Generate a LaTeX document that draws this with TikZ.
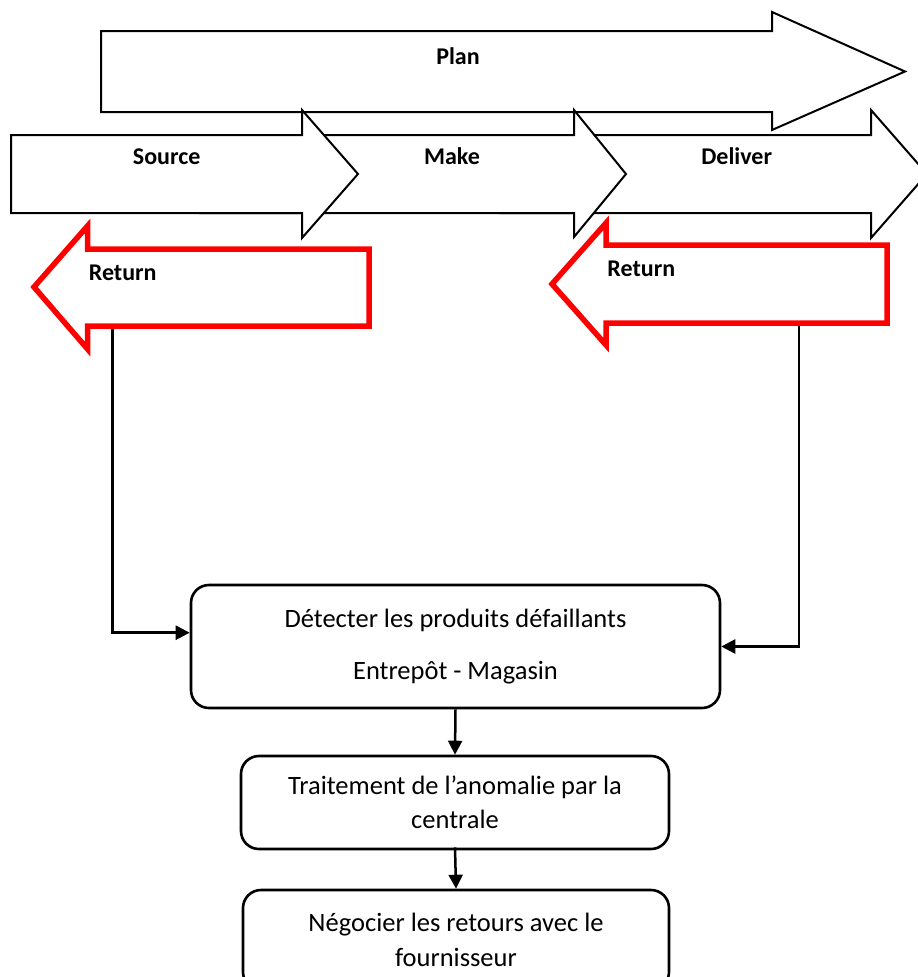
\documentclass[tikz,border=0pt]{standalone}
\usepackage{fontspec}
\setmainfont{Carlito}
\usetikzlibrary{arrows.meta,calc}
\begin{document}
\begin{tikzpicture}[x=1pt,y=-1pt,
  flow/.style={draw=black, line width=2pt, fill=white, line join=miter},
  ret/.style={draw=red, line width=5.5pt, fill=white, line join=miter},
  lbl/.style={font=\fontsize{24}{28}\selectfont\bfseries, anchor=base, inner sep=0pt},
  stepbox/.style={draw=black, line width=2.6pt, rounded corners=18pt, align=center,
                  font=\fontsize{26.5}{34.3}\selectfont, inner sep=0pt},
  conn/.style={line width=2.5pt, -{Triangle[length=14pt,width=14pt]}}
]
\useasboundingbox (0,0) rectangle (918,977);

% process boxes
\node[stepbox, minimum width=529pt, minimum height=123pt] (detect) at (455.5,646.5)
  {Détecter les produits défaillants\\[17.7pt]Entrepôt - Magasin};
\node[stepbox, minimum width=428pt, minimum height=93pt] (treat) at (455,802.5)
  {Traitement de l’anomalie par la\\centrale};
\node[stepbox, minimum width=426pt, minimum height=100pt] (nego) at (456,940)
  {Négocier les retours avec le\\fournisseur};

% feet of the two return arrows
\coordinate (retL) at (112.7,326);
\coordinate (retR) at (799,323);

% connectors
\draw[conn] (retL) |- ($(detect.west)+(0,-13.8)$);
\draw[conn] (retR) |- (detect.east);
\draw[conn] (detect.south) -- (treat.north);
\draw[conn] ($(treat.south)+(0,-3)$) -- (nego.north);

% SCOR process arrows
\draw[flow] (101,31) -- (772,31) -- (772,12) -- (905,71.5) -- (772,130) -- (772,112) -- (101,112) -- cycle;
\draw[flow] (500,135) -- (871,135) -- (871,110) -- (927,174) -- (871,238) -- (871,213) -- (500,213) -- cycle;
\draw[flow] (200,135) -- (574,135) -- (574,110) -- (626,174) -- (574,237) -- (574,213) -- (200,213) -- cycle;
\draw[flow] (11,135) -- (302,135) -- (302,110) -- (358,174) -- (302,238) -- (302,213) -- (11,213) -- cycle;

% return arrows
\draw[ret] (369,249) -- (87.5,249) -- (87.5,226) -- (34,287) -- (87.5,349) -- (87.5,326) -- (369,326) -- cycle;
\draw[ret] (887,245) -- (606,245) -- (606,223) -- (552,284) -- (606,345) -- (606,323) -- (887,323) -- cycle;

% labels
\node[lbl] (plan) at (458,64) {Plan};
\node[lbl] (source) at (166.7,164.3) {Source};
\node[lbl] (make) at (452,164.3) {Make};
\node[lbl] (deliver) at (736.7,164.3) {Deliver};
\node[lbl] (returnL) at (122.7,280) {Return};
\node[lbl] (returnR) at (641.3,276) {Return};
\end{tikzpicture}
\end{document}
